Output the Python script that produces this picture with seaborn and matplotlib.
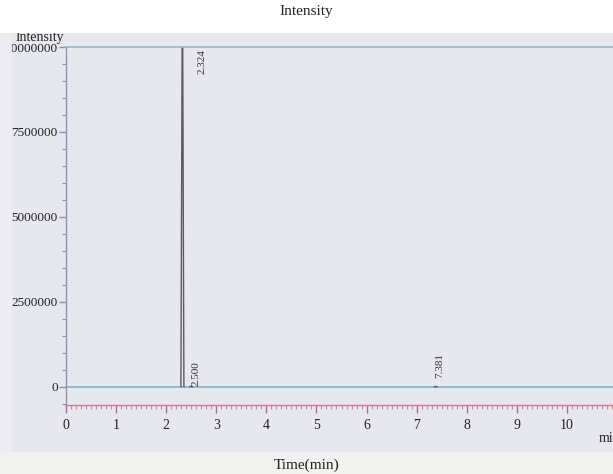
import matplotlib
matplotlib.use("Agg")
import matplotlib.pyplot as plt
import seaborn as sns
import pandas as pd
from matplotlib.patches import Rectangle
from matplotlib.ticker import MultipleLocator

# Detected peaks: retention time (min), apex intensity, printed label
peak_times = [2.324, 2.500, 7.381]
peak_heights = [12500000, 25000, 18000]
peak_labels = ["2.324", "2.500", "7.381"]

run_start = 0.0
run_end = 11.0
x_ticks = [0, 1, 2, 3, 4, 5, 6, 7, 8, 9, 10]
y_ticks = [0, 2500000, 5000000, 7500000, 10000000]
y_tick_labels = ["0", "2500000", "5000000", "7500000", "10000000"]

# Each peak drawn as a narrow rise/fall around its apex
half_width = 0.03
rows = []
for i, (t, h) in enumerate(zip(peak_times, peak_heights)):
    rows += [(i, t - half_width, 0), (i, t, h), (i, t + half_width, 0)]
trace = pd.DataFrame(rows, columns=["peak", "time", "intensity"])

sns.set_theme(style="white")
plt.rcParams["font.family"] = ["Liberation Serif", "DejaVu Serif"]

W, H = 613, 474
fig = plt.figure(figsize=(W / 100, H / 100), dpi=100)
fig.patch.set_facecolor("#e7e7f0")

def px_rect(x0, y0, x1, y1, color, z):
    fig.patches.append(Rectangle((x0 / W, 1 - y1 / H), (x1 - x0) / W, (y1 - y0) / H,
                                 transform=fig.transFigure, facecolor=color,
                                 edgecolor="none", zorder=z))

# paper bands
px_rect(0, 452, W, H, "#f1f1ef", -1)
px_rect(0, 0, W, 33, "#ffffff", 3)
px_rect(0, 33, 12, 452, "#ececf2", 2)

ax = fig.add_axes([66 / W, 1 - 405 / H, 551 / W, (405 - 47) / H])
ax.set_facecolor("none")
ax.set_zorder(0)

sns.lineplot(data=trace, x="time", y="intensity", units="peak", estimator=None,
             color="#5a5a60", linewidth=1.0, ax=ax, legend=False)
ax.axhline(0, color="#72b4c8", linewidth=1.1, zorder=1)

ax.set_xlim(run_start, run_end)
ax.set_ylim(-530000, 10000000)

ax.spines["right"].set_visible(False)
ax.spines["top"].set_color("#8fb6cc")
ax.spines["top"].set_linewidth(1.1)
ax.spines["left"].set_color("#9096ae")
ax.spines["left"].set_linewidth(1.0)
ax.spines["bottom"].set_color("#c98088")
ax.spines["bottom"].set_linewidth(1.0)

ax.set_xticks(x_ticks)
ax.set_xticklabels([str(v) for v in x_ticks])
ax.xaxis.set_minor_locator(MultipleLocator(0.1))
ax.set_yticks(y_ticks)
ax.set_yticklabels(y_tick_labels)
ax.yaxis.set_minor_locator(MultipleLocator(500000))

ax.tick_params(axis="x", which="major", bottom=True, direction="out", length=6,
               width=1.0, color="#b86a78", labelsize=10, pad=4, labelcolor="#222222")
ax.tick_params(axis="x", which="minor", bottom=True, direction="out", length=3,
               width=0.8, color="#c98a94")
ax.tick_params(axis="y", which="major", left=True, direction="out", length=5,
               width=1.0, color="#8a90a8", labelsize=9.5, pad=1, labelcolor="#222222")
ax.tick_params(axis="y", which="minor", left=True, direction="out", length=3,
               width=0.8, color="#8a90a8")
ax.set_xlabel("")
ax.set_ylabel("")

# peak retention-time labels
label_pos = [(peak_times[0] + 0.40, 9950000, "top"),
             (peak_times[1] + 0.10, 30000, "bottom"),
             (peak_times[2] + 0.09, 270000, "bottom")]
for (x, y, va), lab in zip(label_pos, peak_labels):
    ax.text(x, y, lab, rotation=90, ha="center", va=va, fontsize=8, color="#333333")

# titles
fig.text(0.5, 1 - 12 / H, "Intensity", ha="center", va="center", fontsize=11,
         color="#222222", zorder=4)
fig.text(40 / W, 1 - 41 / H, "Intensity", ha="center", va="baseline", fontsize=10,
         color="#222222", zorder=2.5)
fig.text(0.5, 1 - 465 / H, "Time(min)", ha="center", va="center", fontsize=11,
         color="#222222", zorder=4)
fig.text(599 / W, 1 - 438 / H, "mi", ha="left", va="center", fontsize=10,
         color="#222222", zorder=4)

fig.savefig("out.png", dpi=100, facecolor=fig.get_facecolor())
